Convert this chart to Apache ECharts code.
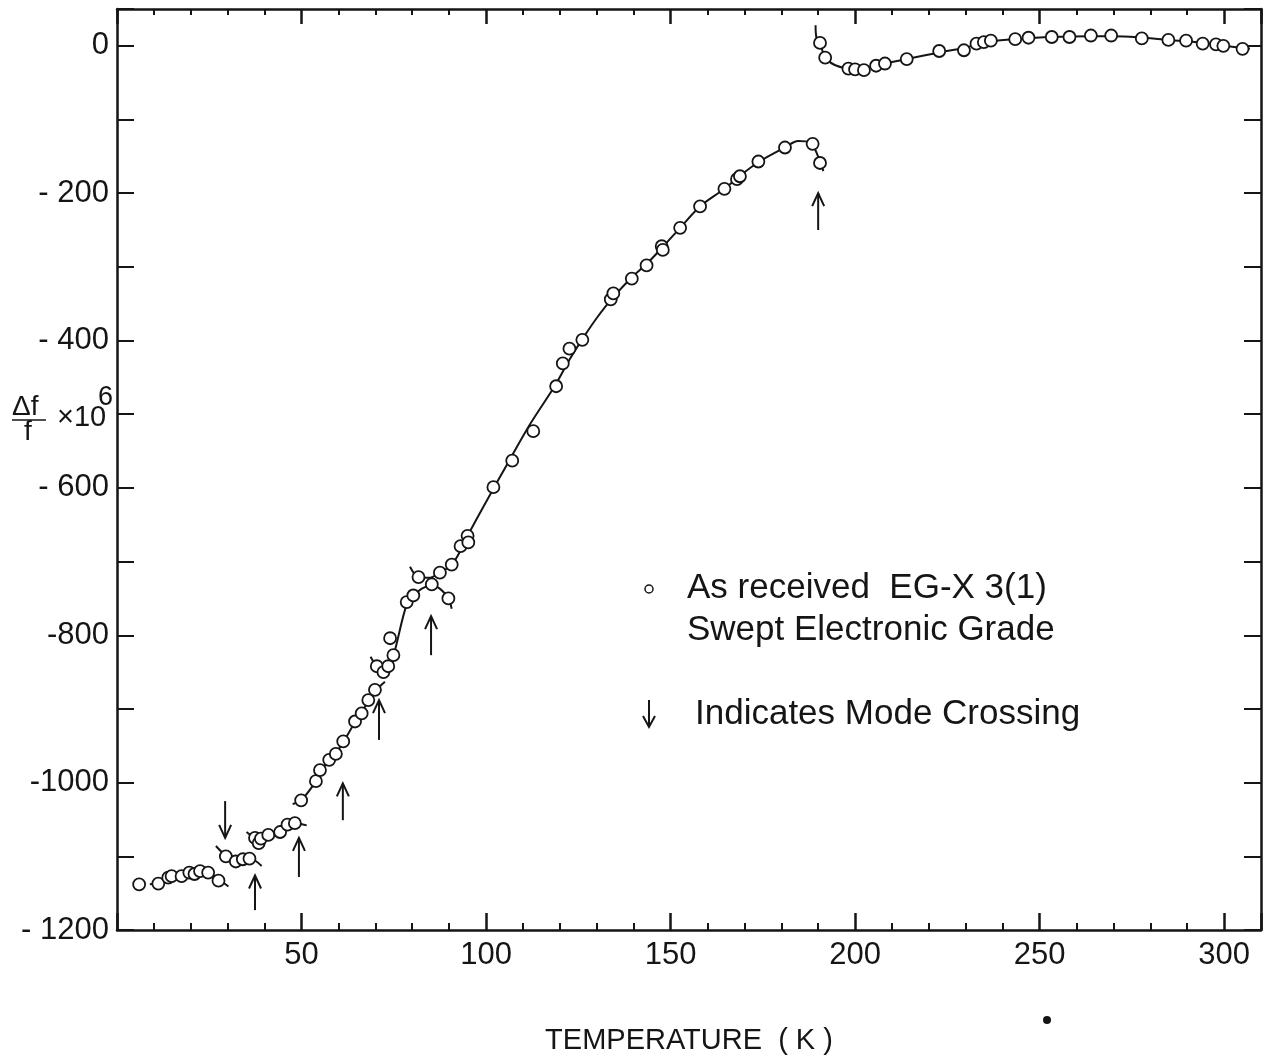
<!DOCTYPE html>
<html>
<head>
<meta charset="utf-8">
<script src="https://cdn.jsdelivr.net/npm/echarts@6/dist/echarts.min.js"></script>
<style>
html,body{margin:0;padding:0;background:#fff;}
#chart{width:1264px;height:1060px;}
</style>
</head>
<body>
<div id="chart"></div>
<script>
// ---- axis settings ----
const xTickLabels = [50, 100, 150, 200, 250, 300];
const yTickLabels = {'0':'0','-200':'- 200','-400':'- 400','-600':'- 600','-800':'-800','-1000':'-1000','-1200':'- 1200'};

// ---- measured points (open circles) ----
const pointsLow = [
  [6.0,-1138],
  [11.2,-1137],[13.9,-1129],[14.8,-1127],[17.5,-1127],[19.6,-1122],[21.0,-1124],[22.5,-1120],[24.7,-1122],[27.5,-1133],
  [29.5,-1100],[32.2,-1107],[34.1,-1104],[35.9,-1103],
  [37.4,-1075],[38.4,-1082],[39.0,-1076],[41.0,-1071],[44.2,-1067],[46.2,-1057],[48.2,-1055]
];
const pointsMid = [
  [49.9,-1024],[53.9,-998],[55.0,-983],[57.5,-969],[59.3,-961],[61.3,-944],[64.5,-917],[66.3,-906],[68.1,-888],[69.9,-874],
  [70.4,-842],[72.2,-850],[73.5,-842],[74.9,-827],[74.0,-804],[78.5,-755],[80.3,-746],[85.3,-731],[89.8,-750],
  [81.7,-721],[87.5,-715],[90.7,-704],[93.1,-679],[95.0,-665],[95.2,-674]
];
const pointsHigh = [
  [102.0,-599],[107.1,-563],[112.8,-523],[119.0,-462],[120.8,-431],[122.6,-411],[126.1,-399],
  [133.8,-344],[134.5,-336],[139.5,-316],[143.5,-298],[147.6,-272],[147.9,-277],[152.6,-247],[158.0,-218],
  [164.6,-194],[168.0,-181],[168.8,-177],[173.8,-157],[181.0,-138],[188.5,-133],[190.5,-159]
];
const pointsTop = [
  [190.5,4],[191.9,-16],[198.2,-31],[200.0,-32],[202.4,-33],[205.7,-27],[208.1,-24],[214.0,-18],[222.8,-7],
  [229.5,-6],[232.9,3],[234.9,5],[236.8,7],[243.4,9],[247.0,11],[253.3,12],[258.1,12],[263.9,14],[269.4,14],
  [277.7,10],[284.9,8],[289.7,7],[294.2,3],[297.8,2],[299.8,0],[305.0,-4]
];

// ---- hand-drawn fitted curves ----
const curveA = [[8.9,-1138],[11.2,-1136],[14,-1129],[17.5,-1125],[21,-1121],[23,-1119],[25,-1122],[27.5,-1131],[30.2,-1141]];
const curveB = [[26.8,-1086],[29.5,-1099],[32.2,-1106],[34.1,-1104],[35.9,-1102],[37.5,-1106],[39.2,-1113]];
const curveC = [[35.1,-1067],[37.4,-1076],[38.6,-1080],[41,-1072],[44.2,-1066],[46.2,-1059],[48.2,-1055],[51.4,-1058]];
const curveD = [[47.6,-1029],[49.9,-1024],[53.9,-998],[55,-985],[57.5,-970],[59.3,-960],[61.3,-945],[64.5,-918],[66.3,-905],[68.1,-889],[69.9,-876],[72.6,-863]];
const curveE = [[68.7,-829],[70.4,-842],[72.2,-850],[73.5,-843],[74.9,-828],[78.5,-758],[80.3,-747],[82.5,-737],[85.3,-732],[87.8,-738],[89.8,-750],[90.7,-764]];
const curveF = [[79.4,-707],[81.7,-721],[84.5,-722],[87.5,-715],[90.7,-704],[93.4,-682],[95,-665],[100,-619],[106.5,-561],[112,-513],[118.7,-461],[122.6,-426],[126.5,-395],[130.2,-368],[133.8,-345],[139.5,-314],[143.5,-296],[147.7,-274],[152.6,-247],[158,-218],[164.6,-194],[168.4,-178],[173.8,-158],[181,-138],[184.6,-129],[187.8,-131],[189.8,-148],[191.4,-170]];
const curveG = [[189.3,28],[189.5,12],[190.5,4],[191.9,-16],[194.5,-26],[198,-31],[200,-32],[203,-31],[206,-27],[210,-22],[214,-18],[222.8,-9],[229.5,-3],[233,2],[237,6],[243.4,9],[253,12],[264,13],[270,13],[278,11],[285,8],[294,4],[300,0],[307,-4]];

// ---- mode-crossing arrows: temperature, tail value, head value ----
const arrowT    = [29.3, 37.4, 49.3, 61.2, 71.0, 85.1, 190.0];
const arrowTail = [-1025, -1173, -1128, -1051, -942, -827, -250];
const arrowHead = [-1075, -1126, -1075, -1001, -888, -774, -200];

const INK = '#151515';
const FONT = '"Liberation Sans", "DejaVu Sans", sans-serif';

function lineSeries(data){
  return {type:'line', data:data, smooth:0.35, showSymbol:false, symbol:'none',
    lineStyle:{color:INK, width:2}, z:2, silent:true, animation:false, clip:false};
}
function scatterSeries(data){
  return {type:'scatter', data:data, symbol:'circle', symbolSize:12,
    itemStyle:{color:'#ffffff', opacity:1, borderColor:INK, borderWidth:1.8}, z:3, silent:true, animation:false};
}

const arrowData = arrowT.map((t,i)=>[t, arrowTail[i], arrowHead[i]]);

const chart = echarts.init(document.getElementById('chart'), null, {renderer:'canvas'});
chart.setOption({
  backgroundColor:'#fff',
  animation:false,
  grid:{left:117, right:3, top:9, bottom:127, containLabel:false},
  xAxis:[{
    type:'value', min:0, max:310, interval:50, position:'bottom',
    axisLine:{show:true, onZero:false, lineStyle:{color:INK, width:2.5}},
    axisTick:{show:true, inside:true, length:17, lineStyle:{color:INK, width:2.5}},
    minorTick:{show:true, splitNumber:5, length:7, lineStyle:{color:INK, width:2}},
    splitLine:{show:false},
    axisLabel:{color:INK, fontFamily:FONT, fontSize:31, margin:10,
      formatter:function(v){ return xTickLabels.indexOf(v) >= 0 ? String(v) : ''; }},
    name:'TEMPERATURE  ( K )', nameLocation:'middle', nameGap:96,
    nameTextStyle:{color:INK, fontFamily:FONT, fontSize:29}
  },{
    type:'value', min:0, max:310, interval:50, position:'top',
    axisLine:{show:true, onZero:false, lineStyle:{color:INK, width:2.5}},
    axisTick:{show:true, inside:true, length:15, lineStyle:{color:INK, width:2.5}},
    minorTick:{show:true, splitNumber:5, length:6, lineStyle:{color:INK, width:2}},
    splitLine:{show:false}, axisLabel:{show:false}
  }],
  yAxis:[{
    type:'value', min:-1200, max:50, interval:100, position:'left',
    axisLine:{show:true, onZero:false, lineStyle:{color:INK, width:2.5}},
    axisTick:{show:true, inside:true, length:17, lineStyle:{color:INK, width:2}},
    splitLine:{show:false},
    axisLabel:{color:INK, fontFamily:FONT, fontSize:31, margin:8,
      formatter:function(v){ const k=String(v); return yTickLabels[k] !== undefined ? yTickLabels[k] : ''; }}
  },{
    type:'value', min:-1200, max:50, interval:100, position:'right',
    axisLine:{show:true, onZero:false, lineStyle:{color:INK, width:2.5}},
    axisTick:{show:true, inside:true, length:17, lineStyle:{color:INK, width:2}},
    splitLine:{show:false}, axisLabel:{show:false}
  }],
  series:[
    lineSeries(curveA), lineSeries(curveB), lineSeries(curveC), lineSeries(curveD),
    lineSeries(curveE), lineSeries(curveF), lineSeries(curveG),
    scatterSeries(pointsLow), scatterSeries(pointsMid), scatterSeries(pointsHigh), scatterSeries(pointsTop),
    {
      type:'custom', data:arrowData, z:4, silent:true, animation:false,
      renderItem:function(params, api){
        const t = api.value(0);
        const p0 = api.coord([t, api.value(1)]);
        const p1 = api.coord([t, api.value(2)]);
        const dir = p1[1] < p0[1] ? 1 : -1;
        const hl = 13, hw = 6;
        return {type:'group', children:[
          {type:'line', shape:{x1:p0[0], y1:p0[1], x2:p1[0], y2:p1[1]}, style:{stroke:INK, lineWidth:2}},
          {type:'polyline', shape:{points:[[p1[0]-hw, p1[1]+dir*hl],[p1[0], p1[1]],[p1[0]+hw, p1[1]+dir*hl]]},
            style:{stroke:INK, lineWidth:2, fill:null}}
        ]};
      }
    }
  ],
  graphic:[
    {type:'text', left:12, top:393, style:{text:'Δf', font:'28px '+FONT, fill:INK}},
    {type:'line', shape:{x1:12, y1:420, x2:46, y2:420}, style:{stroke:INK, lineWidth:1.5}},
    {type:'text', left:24, top:418, style:{text:'f', font:'28px '+FONT, fill:INK}},
    {type:'text', left:57, top:403, style:{text:'×10', font:'29px '+FONT, fill:INK}},
    {type:'text', left:98, top:384, style:{text:'6', font:'27px '+FONT, fill:INK}},
    {type:'circle', shape:{cx:649, cy:589, r:4}, style:{stroke:INK, lineWidth:1.5, fill:'#fff'}},
    {type:'text', x:687, y:588, style:{text:'As received  EG-X 3(1)', font:'35px '+FONT, fill:INK, verticalAlign:'middle'}},
    {type:'text', x:687, y:630, style:{text:'Swept Electronic Grade', font:'35px '+FONT, fill:INK, verticalAlign:'middle'}},
    {type:'line', shape:{x1:649, y1:700, x2:649, y2:727}, style:{stroke:INK, lineWidth:2}},
    {type:'polyline', shape:{points:[[643,716],[649,727],[655,716]]}, style:{stroke:INK, lineWidth:2, fill:null}},
    {type:'text', x:695, y:714, style:{text:'Indicates Mode Crossing', font:'35px '+FONT, fill:INK, verticalAlign:'middle'}},
    {type:'circle', shape:{cx:1047, cy:1020, r:4}, style:{fill:INK}}
  ]
});
</script>
</body>
</html>
